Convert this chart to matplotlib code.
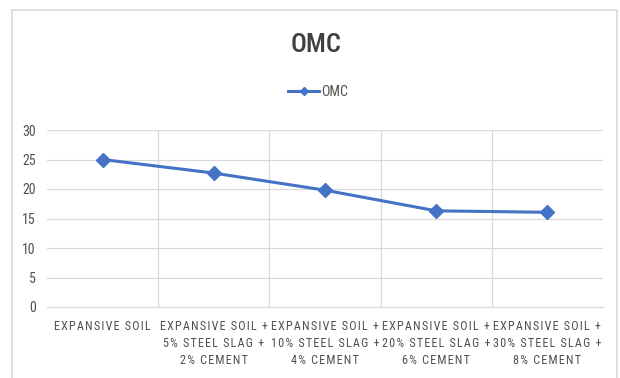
import matplotlib.pyplot as plt
from matplotlib.patches import Rectangle

categories = [
    "EXPANSIVE SOIL",
    "EXPANSIVE SOIL +\n5% STEEL SLAG +\n2% CEMENT",
    "EXPANSIVE SOIL +\n10% STEEL SLAG +\n4% CEMENT",
    "EXPANSIVE SOIL +\n20% STEEL SLAG +\n6% CEMENT",
    "EXPANSIVE SOIL +\n30% STEEL SLAG +\n8% CEMENT",
]
omc = [25.0, 22.7, 19.8, 16.3, 16.05]
yticks = [0, 5, 10, 15, 20, 25, 30]

COND = ['Roboto Condensed', 'Open Sans Condensed', 'PT Sans Narrow', 'DejaVu Sans']
plt.rcParams['font.family'] = COND


def spaced(s):
    # widen tracking of the category labels
    return "\n".join("\u200a".join(line) for line in s.split("\n"))


fig = plt.figure(figsize=(6.2, 3.78), dpi=100)
W, H = 620, 378
ax = fig.add_axes([47 / W, 1 - 307 / H, (603 - 47) / W, (307 - 130) / H])

# outer chart frame
fig.patches.append(Rectangle((12 / W, -0.05), (617 - 12) / W, 1 - 10 / H + 0.05,
                             transform=fig.transFigure, fill=False,
                             edgecolor='#d9d9d9', linewidth=1.2))

x = range(len(categories))
line, = ax.plot(x, omc, color='#4472C4', linewidth=2.2, marker='D',
                markersize=7, label='OMC')

ax.set_xlim(-0.5, len(categories) - 0.5)
ax.set_ylim(0, 30)
ax.set_yticks(yticks)
ax.set_xticks(list(x))
ax.set_xticklabels([spaced(c) for c in categories], fontsize=8.7, color='#505050',
                   linespacing=1.45)
ax.tick_params(axis='y', labelsize=10, labelcolor='#505050', length=0, pad=8)
ax.tick_params(axis='x', length=0, pad=9)

ax.grid(axis='y', color='#d9d9d9', linewidth=0.9)
for b in [i + 0.5 for i in range(len(categories) - 1)]:
    ax.axvline(b, color='#d9d9d9', linewidth=0.9, zorder=0)
ax.set_axisbelow(True)
for s in ['top', 'right', 'left']:
    ax.spines[s].set_visible(False)
ax.spines['bottom'].set_color('#d9d9d9')

fig.text(316 / W, 1 - 45 / H, 'OMC', ha='center', va='center', fontsize=19,
         color='#404040', weight='medium')
fig.legend(handles=[line], loc='center', bbox_to_anchor=(318 / W, 1 - 92 / H),
           frameon=False, handlelength=2.3, markerscale=0.6,
           labelcolor='#505050', handletextpad=0.15, prop={'size': 10})

fig.savefig('out.png', dpi=100)
